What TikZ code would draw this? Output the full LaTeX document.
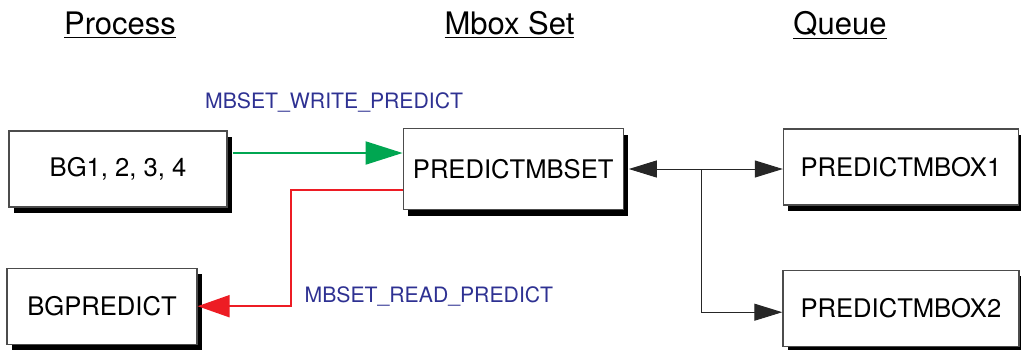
\documentclass[tikz,border=0pt]{standalone}
\usepackage{fontspec}
\setmainfont{TeX Gyre Heros}
\usetikzlibrary{arrows.meta,positioning,shadows}
\definecolor{lblblue}{RGB}{46,49,146}
\definecolor{wrgreen}{RGB}{0,166,81}
\definecolor{rdred}{RGB}{237,28,36}

\begin{document}
\begin{tikzpicture}[%
    >={Triangle[length=14pt,width=8.5pt]},
    box/.style={draw=black!70, line width=0.6pt, fill=white, inner sep=0pt,
      minimum height=38pt, font=\fontsize{12.8}{15}\selectfont,
      drop shadow={shadow xshift=2.5pt, shadow yshift=-3pt, fill=black, opacity=1}},
    head/.style={anchor=base, font=\fontsize{15.5}{18}\selectfont},
    lbl/.style={text=lblblue, inner sep=0pt, font=\fontsize{10.6}{12}\selectfont},
    wrline/.style={wrgreen, line width=1pt, -{Triangle[length=18.5pt,width=11.5pt]}},
    rdline/.style={rdred, line width=1pt, -{Triangle[length=16pt,width=11pt]}},
    qline/.style={black!85, line width=0.5pt},
  ]
    \useasboundingbox (0,0) rectangle (510.5pt,-174.5pt);

    \node[head] (hproc)  at (60pt,-17pt)     {\underline{Process}};
    \node[head] (hmbset) at (254.75pt,-17pt) {\underline{Mbox Set}};
    \node[head] (hqueue) at (420pt,-17pt)    {\underline{Queue}};

    \node[box, minimum width=109pt] (bg) at (59pt,-84.5pt) {BG1, 2, 3, 4};
    \node[box, minimum width=110pt, minimum height=40.5pt] (mbset) [right=87.5pt of bg] {PREDICTMBSET};
    \node[box, minimum width=117.5pt] (mbox1) [right=79.5pt of mbset, yshift=1pt] {PREDICTMBOX1};
    \node[box, minimum width=95pt] (bgpred) [below right=30pt and -1pt of bg.south west] {BGPREDICT};
    \node[box, minimum width=118pt] (mbox2) [below=32pt of mbox1] {PREDICTMBOX2};

    \coordinate (wr) at ([xshift=2.5pt,yshift=8pt]bg.east);
    \coordinate (br) at ([xshift=39pt]mbset.east);

    \draw[wrline] (wr) -- node[lbl, anchor=base, xshift=8.25pt, yshift=22.5pt] {MBSET\_WRITE\_PREDICT} (wr -| mbset.west);
    \draw[rdline] ([yshift=-10.25pt]mbset.west) -- ++(-56pt,0)
      |- node[lbl, pos=0.5, anchor=base west, xshift=6.5pt, yshift=2pt] {MBSET\_READ\_PREDICT} (bgpred.east);
    \draw[qline, <->] ([xshift=2.5pt]mbset.east) -- (mbset.east -| mbox1.west);
    \draw[qline, ->] (br) |- ([yshift=-2pt]mbox2.west);
  \end{tikzpicture}
\end{document}
